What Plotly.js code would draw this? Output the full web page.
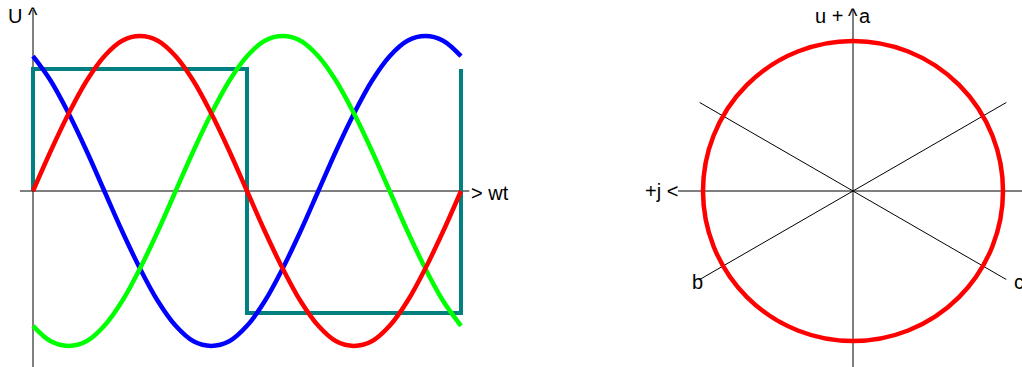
<!DOCTYPE html>
<html>
<head>
<meta charset="utf-8">
<script src="https://cdn.plot.ly/plotly-3.0.1.min.js"></script>
<style>html,body{margin:0;padding:0;background:#fff;}#chart{width:1022px;height:367px;}</style>
</head>
<body>
<div id="chart"></div>
<script>
// ---- data ----
// phase angle wt in degrees
const wt = [0,15,30,45,60,75,90,105,120,135,150,165,180,195,210,225,240,255,270,285,300,315,330,345,360];
// phase voltages (normalised to peak = 1)
const uRed   = [0,0.26,0.50,0.71,0.87,0.97,1,0.97,0.87,0.71,0.50,0.26,0,-0.26,-0.50,-0.71,-0.87,-0.97,-1,-0.97,-0.87,-0.71,-0.50,-0.26,0];
const uBlue  = [0.87,0.71,0.50,0.26,0,-0.26,-0.50,-0.71,-0.87,-0.97,-1,-0.97,-0.87,-0.71,-0.50,-0.26,0,0.26,0.50,0.71,0.87,0.97,1,0.97,0.87];
const uGreen = [-0.87,-0.97,-1,-0.97,-0.87,-0.71,-0.50,-0.26,0,0.26,0.50,0.71,0.87,0.97,1,0.97,0.87,0.71,0.50,0.26,0,-0.26,-0.50,-0.71,-0.87];
// square wave (switching signal)
const sqX = [0,0,180,180,360,360];
const sqY = [0,0.787,0.787,-0.787,-0.787,0.787];
// phasor diagram
const circleRadius = 1;
const phasorAngles = [90,210,330];          // a, b, c directions (deg)
const phasorLabels = ['a','b','c'];
const phasorLineLength = 1.18;
// axis labels
const leftYLabel = 'U';
const leftXLabel = '> wt';
const rightYLabel = 'u +';
const rightXLabel = '+j <';
const arrowHead = '^';

// ---- chart ----
const font = {family:'Liberation Sans, Arial, sans-serif', size:20, color:'#000'};
const traces = [
  {x:sqX, y:sqY, mode:'lines', line:{color:'#008080', width:4}, xaxis:'x', yaxis:'y'},
  {x:wt, y:uBlue, mode:'lines', line:{color:'#0000ff', width:4.5, shape:'spline'}, xaxis:'x', yaxis:'y'},
  {x:wt, y:uGreen, mode:'lines', line:{color:'#00ff00', width:4.5, shape:'spline'}, xaxis:'x', yaxis:'y'},
  {x:wt, y:uRed, mode:'lines', line:{color:'#ff0000', width:4.5, shape:'spline'}, xaxis:'x', yaxis:'y'}
];

const rad = d => d*Math.PI/180;
const shapes = [
  // left axes
  {type:'line', xref:'x', yref:'y', x0:0, x1:0, y0:1.168, y1:-1.2, line:{color:'#000', width:1}, layer:'below'},
  {type:'line', xref:'x', yref:'y', x0:-11, x1:367, y0:0, y1:0, line:{color:'#000', width:1}, layer:'below'},
  // right axes
  {type:'line', xref:'x2', yref:'y2', x0:0, x1:0, y0:1.207, y1:-1.2, line:{color:'#000', width:1}, layer:'below'},
  {type:'line', xref:'x2', yref:'y2', x0:-1.167, x1:1.2, y0:0, y1:0, line:{color:'#000', width:1}, layer:'below'},
];
// b and c lines through the centre
[phasorAngles[1], phasorAngles[2]].forEach(a => {
  shapes.push({type:'line', xref:'x2', yref:'y2',
    x0:phasorLineLength*Math.cos(rad(a)), y0:phasorLineLength*Math.sin(rad(a)),
    x1:-phasorLineLength*Math.cos(rad(a)), y1:-phasorLineLength*Math.sin(rad(a)),
    line:{color:'#000', width:1}, layer:'below'});
});
shapes.push({type:'circle', xref:'x2', yref:'y2', x0:-circleRadius, x1:circleRadius, y0:-circleRadius, y1:circleRadius,
  line:{color:'#ff0000', width:4.5}});

const ann = (x,y,text,xref,yref,xanchor) => ({x,y,text,xref,yref,xanchor,yanchor:'middle',showarrow:false,font});
const annotations = [
  ann(-15.1, 1.129, leftYLabel, 'x','y','center'),
  ann(0.3, 1.135, arrowHead, 'x','y','center'),
  ann(366.5, -0.013, leftXLabel, 'x','y','left'),
  ann(-0.053, 1.167, rightYLabel, 'x2','y2','right'),
  ann(0, 1.17, arrowHead, 'x2','y2','center'),
  ann(0.027, 1.167, phasorLabels[0], 'x2','y2','left'),
  ann(-1.153, 0.0, rightXLabel, 'x2','y2','right'),
  ann(-0.987, -0.607, phasorLabels[1], 'x2','y2','right'),
  ann(1.06, -0.607, phasorLabels[2], 'x2','y2','left'),
];

const hidden = {visible:false, fixedrange:true};
const layout = {
  width:1022, height:367,
  margin:{l:0,r:0,t:0,b:0},
  paper_bgcolor:'#fff', plot_bgcolor:'rgba(0,0,0,0)',
  showlegend:false,
  xaxis:Object.assign({domain:[0,0.5], range:[-27.76,402.06], anchor:'y'}, hidden),
  yaxis:Object.assign({domain:[0,1], range:[-1.1355,1.2323], anchor:'x'}, hidden),
  xaxis2:Object.assign({domain:[0.5,1], range:[-2.28,1.1267], anchor:'y2'}, hidden),
  yaxis2:Object.assign({domain:[0,1], range:[-1.1733,1.2733], anchor:'x2'}, hidden),
  shapes, annotations
};
Plotly.newPlot('chart', traces, layout, {displayModeBar:false, staticPlot:true});
</script>
</body>
</html>
